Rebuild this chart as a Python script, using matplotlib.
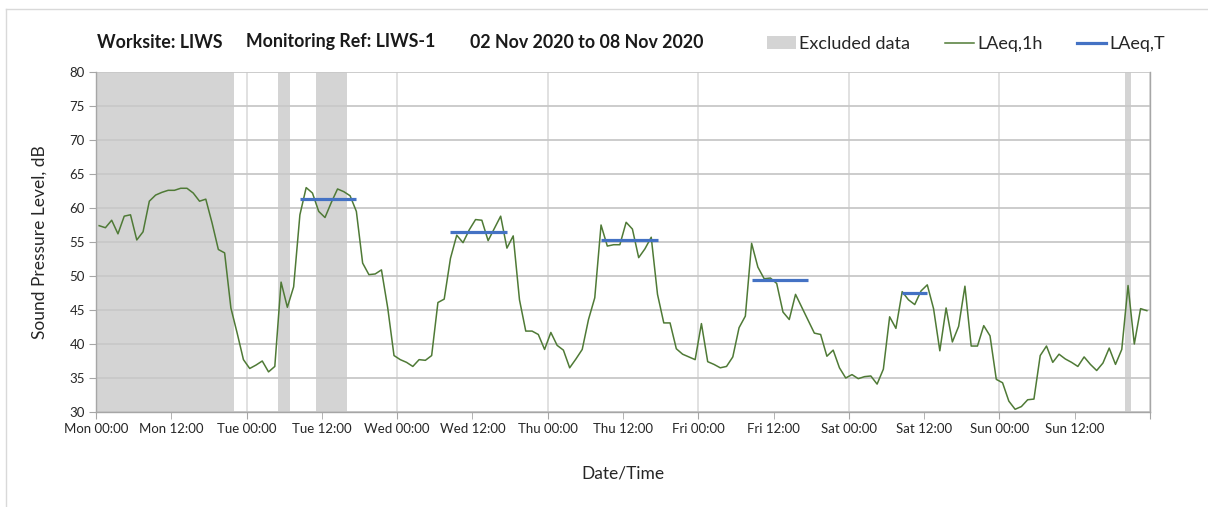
import numpy as np
import matplotlib
matplotlib.use('Agg')
import matplotlib.pyplot as plt
from matplotlib.patches import Patch
from matplotlib.lines import Line2D
from matplotlib.ticker import FixedLocator, FixedFormatter

plt.rcParams['font.family'] = ['Lato', 'DejaVu Sans']

# hourly LAeq,1h values, Mon 02 Nov 00:00 -> Sun 08 Nov 23:00
laeq_1h = [
    # Mon
    57.4, 57.1, 58.2, 56.2, 58.8, 59.0, 55.3, 56.5, 61.0, 61.9, 62.3, 62.6,
    62.6, 62.9, 62.9, 62.2, 61.0, 61.3, 57.8, 53.9, 53.4, 45.3, 41.6, 37.7,
    # Tue
    36.4, 36.9, 37.5, 35.9, 36.7, 49.1, 45.4, 48.4, 59.0, 63.0, 62.2, 59.5,
    58.6, 60.8, 62.8, 62.4, 61.8, 59.5, 51.9, 50.2, 50.3, 50.9, 45.3, 38.3,
    # Wed
    37.7, 37.3, 36.7, 37.7, 37.6, 38.3, 46.1, 46.6, 52.6, 56.0, 54.9, 56.8,
    58.3, 58.2, 55.2, 57.0, 58.8, 54.1, 55.9, 46.5, 41.9, 41.9, 41.4, 39.2,
    # Thu
    41.7, 39.8, 39.1, 36.5, 37.8, 39.2, 43.6, 46.8, 57.5, 54.4, 54.6, 54.6,
    57.9, 56.9, 52.7, 54.0, 55.7, 47.3, 43.1, 43.1, 39.3, 38.5, 38.1, 37.7,
    # Fri
    43.0, 37.4, 37.0, 36.5, 36.7, 38.1, 42.4, 44.1, 54.8, 51.3, 49.6, 49.7,
    48.9, 44.7, 43.6, 47.3, 45.4, 43.5, 41.6, 41.4, 38.2, 39.1, 36.5, 35.0,
    # Sat
    35.5, 34.9, 35.2, 35.3, 34.1, 36.3, 44.0, 42.3, 47.7, 46.5, 45.8, 47.8,
    48.7, 45.2, 39.0, 45.3, 40.3, 42.6, 48.5, 39.7, 39.7, 42.7, 41.2, 34.8,
    # Sun
    34.3, 31.6, 30.4, 30.8, 31.8, 31.9, 38.3, 39.7, 37.3, 38.5, 37.8, 37.3,
    36.7, 38.1, 37.0, 36.1, 37.2, 39.4, 37.0, 39.2, 48.6, 40.0, 45.2, 44.9,
]

# LAeq,T over working periods (hour index of first / last hour)
period_start = [32, 56, 80, 104, 128]
period_end = [41, 65, 89, 113, 132]
laeq_t = [61.3, 56.5, 55.3, 49.4, 47.5]

# excluded data periods (hours from Mon 00:00)
excl_start = [0, 29, 35, 164]
excl_end = [22, 31, 40, 165]

day_labels = ['Mon 00:00', 'Tue 00:00', 'Wed 00:00', 'Thu 00:00',
              'Fri 00:00', 'Sat 00:00', 'Sun 00:00', '']
noon_labels = ['Mon 12:00', 'Tue 12:00', 'Wed 12:00', 'Thu 12:00',
               'Fri 12:00', 'Sat 12:00', 'Sun 12:00']

n = len(laeq_1h)
x = np.arange(n) + 0.5
laeq_t_series = np.full(n, np.nan)
for s, e, v in zip(period_start, period_end, laeq_t):
    laeq_t_series[s:e + 1] = v

fig = plt.figure(figsize=(12.08, 5.07), dpi=100)
ax = fig.add_axes([96 / 1208, 1 - 412 / 507, (1150 - 96) / 1208, (412 - 72) / 507])

for s, e in zip(excl_start, excl_end):
    ax.axvspan(s, e, color='#d4d4d4', lw=0, zorder=0.2)

ax.plot(x, laeq_1h, color='#4f7a36', lw=1.1, zorder=3)
ax.plot(x, laeq_t_series, color='#4472c4', lw=2.3, zorder=4, solid_capstyle='butt')

ax.set_xlim(0, 168)
ax.set_ylim(30, 80)
ax.set_yticks(np.arange(30, 81, 5))

ax.xaxis.set_major_locator(FixedLocator(np.arange(0, 169, 24)))
ax.xaxis.set_major_formatter(FixedFormatter(day_labels))
ax.xaxis.set_minor_locator(FixedLocator(np.arange(12, 168, 24)))
ax.xaxis.set_minor_formatter(FixedFormatter(noon_labels))

ax.grid(axis='y', color='#c8c8c8', lw=1.3, zorder=0.5)
ax.grid(axis='x', which='major', color='#dcdcdc', lw=1.2, zorder=0.5)
ax.set_axisbelow(True)

for side in ['left', 'bottom', 'right']:
    ax.spines[side].set_color('#a6a6a6')
    ax.spines[side].set_linewidth(1.0)
ax.spines['top'].set_visible(False)

ax.tick_params(axis='both', which='both', direction='out', length=5,
               color='#a6a6a6', labelsize=9.5, labelcolor='#262626', pad=3)

ax.set_ylabel('Sound Pressure Level, dB', fontsize=12.5, color='#262626', labelpad=16)
ax.set_xlabel('Date/Time', fontsize=12.5, color='#262626', labelpad=22)

# title pieces
ty = 1 - 42 / 507
title_kw = dict(fontsize=12.8, fontweight='bold', va='center', color='#1a1a1a')
fig.text(97 / 1208, ty, 'Worksite: LIWS', **title_kw)
fig.text(246 / 1208, ty, 'Monitoring Ref: LIWS-1', **title_kw)
fig.text(470 / 1208, ty, '02 Nov 2020 to 08 Nov 2020', **title_kw)

handles = [Patch(facecolor='#d4d4d4', edgecolor='none', label='Excluded data'),
           Line2D([], [], color='#4f7a36', lw=1.1, label='LAeq,1h'),
           Line2D([], [], color='#4472c4', lw=2.3, label='LAeq,T')]
leg = fig.legend(handles=handles, loc='center right',
                 bbox_to_anchor=(1165 / 1208, 1 - 44 / 507),
                 ncol=3, frameon=False, fontsize=13, handlelength=1.6,
                 handletextpad=0.2, columnspacing=1.9, borderaxespad=0, borderpad=0)
for t in leg.get_texts():
    t.set_color('#262626')

# outer chart frame: only left and top edges fall inside the picture
fx = 5.5 / 1208
fy = 1 - 8.5 / 507
fig.add_artist(Line2D([fx, fx], [0, fy], transform=fig.transFigure, color='#d9d9d9', lw=1.0))
fig.add_artist(Line2D([fx, 1], [fy, fy], transform=fig.transFigure, color='#d9d9d9', lw=1.0))

fig.savefig('out.png', dpi=100, facecolor='white')
